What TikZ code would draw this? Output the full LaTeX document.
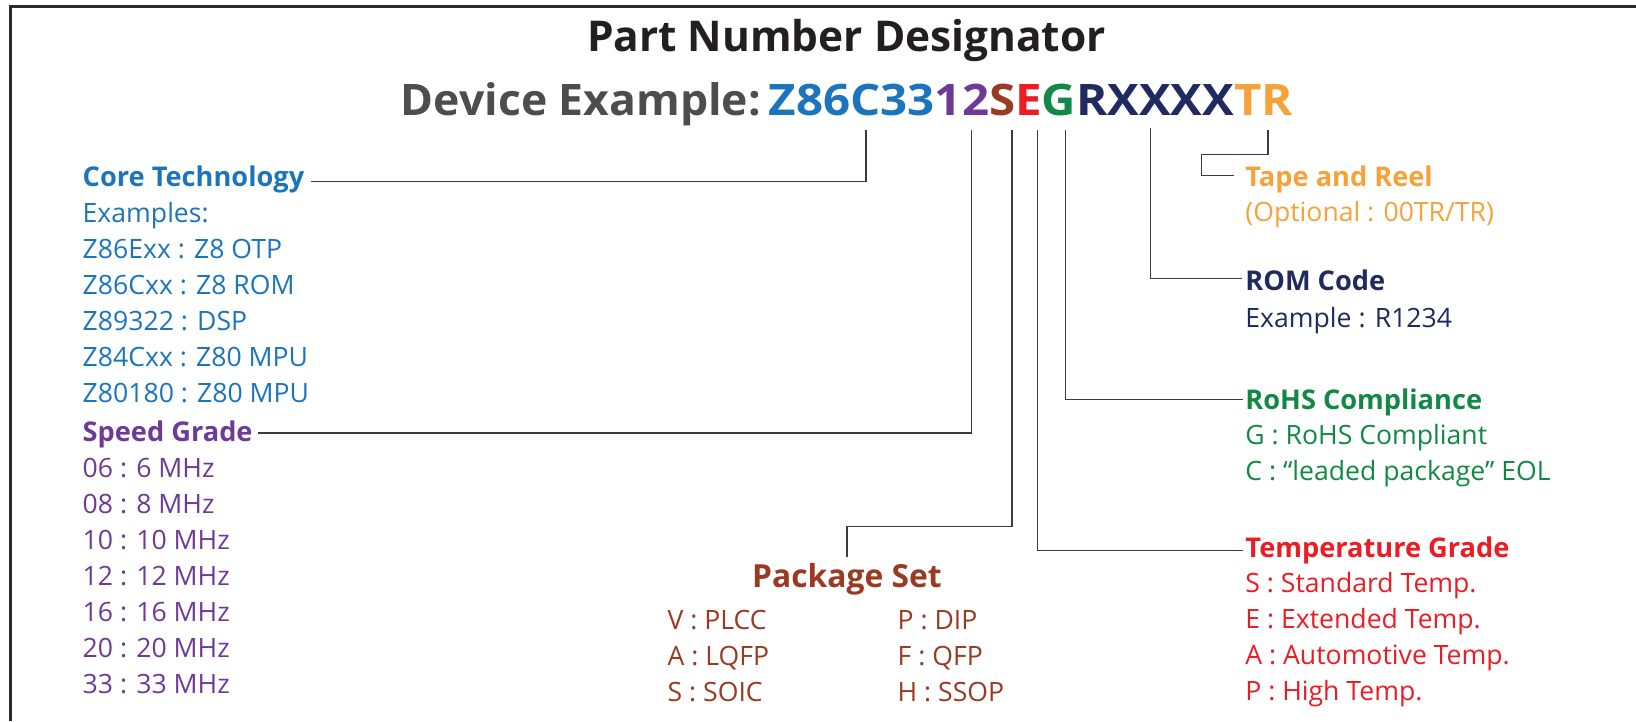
\documentclass[tikz,border=0pt]{standalone}
\usepackage{graphicx}
\usepackage{fontspec}
\setmainfont{Open Sans}
\definecolor{cblue}{HTML}{1C75BC}
\definecolor{cpurple}{HTML}{6E3A97}
\definecolor{cbrown}{HTML}{9A3A22}
\definecolor{cred}{HTML}{EC1C24}
\definecolor{cgreen}{HTML}{118844}
\definecolor{cnavy}{HTML}{1F2A60}
\definecolor{corange}{HTML}{F7A13B}
\definecolor{cgray}{HTML}{4D4D4D}
\definecolor{ctitle}{HTML}{231F20}
\definecolor{cline}{HTML}{3C3C3C}
\definecolor{cframe}{HTML}{2B2B2B}
\tikzset{
  lbl/.style={anchor=base west, inner sep=0pt, outer sep=0pt},
  head/.style={lbl, font=\bfseries\fontsize{27.2}{30}\selectfont},
  body/.style={lbl, font=\fontsize{26.6}{30}\selectfont},
  devfont/.style={inner sep=0pt, outer sep=0pt, font=\bfseries\fontsize{43.4}{46}\selectfont},
  conn/.style={draw=cline, line width=1.5pt},
}
\begin{document}
\begin{tikzpicture}[x=1pt,y=-1pt]
\useasboundingbox (0,0) rectangle (1636,721);
% frame
\draw[cframe, line width=2.6pt] (10.5,721) -- (10.5,6.3) -- (1636,6.3);
% title
\node[anchor=base, inner sep=0pt, text=ctitle, font=\bfseries\fontsize{42.4}{46}\selectfont] (title) at (846.5,51.7) {Part Number Designator};
\node[devfont, anchor=base east, text=cgray] (devlbl) at (761,115.7) {\scalebox{1.026}[1]{Device Example:}};
\node[devfont, anchor=base west] (code) at (768.8,115.7)
  {\scalebox{1.094}[1]{\textcolor{cblue}{Z86C33}\textcolor{cpurple}{12}\textcolor{cbrown}{S}\textcolor{cred}{E}\textcolor{cgreen}{G}\textcolor{cnavy}{RXXXX}\textcolor{corange}{TR}}};
% tick coordinates
\coordinate (tC) at (865.8,130);
\coordinate (t2) at (971.7,130);
\coordinate (tS) at (1011.8,130);
\coordinate (tE) at (1037.6,130);
\coordinate (tG) at (1065.7,130);
\coordinate (tX) at (1150.7,127.5);
\coordinate (tR) at (1268.2,130);
% Core technology
\node[head, text=cblue] (coreH) at (82.7,186.7) {Core Technology};
\foreach \t [count=\i from 0] in {Examples:, Z86Exx : Z8 OTP, Z86Cxx : Z8 ROM, Z89322 : DSP, Z84Cxx : Z80 MPU, Z80180 : Z80 MPU}
  \node[body, text=cblue] (core\i) at (82.7,222.7+36*\i) {\t};
% Speed grade
\node[head, text=cpurple] (spdH) at (82.7,441.7) {Speed Grade};
\foreach \t [count=\i from 0] in {06 : 6 MHz, 08 : 8 MHz, 10 : 10 MHz, 12 : 12 MHz, 16 : 16 MHz, 20 : 20 MHz, 33 : 33 MHz}
  \node[body, text=cpurple] (spd\i) at (82.7,477.7+36*\i) {\t};
% Package set
\node[anchor=base, inner sep=0pt, text=cbrown, font=\bfseries\fontsize{31.8}{36}\selectfont] (pkgH) at (847,587.7) {Package Set};
\node[body, text=cbrown] (pkV) at (667.7,629) {V : PLCC};
\node[body, text=cbrown] (pkA) at (667.7,665.7) {A : LQFP};
\node[body, text=cbrown] (pkS) at (667.7,701.7) {S : SOIC};
\node[body, text=cbrown] (pkP) at (897.7,629) {P : DIP};
\node[body, text=cbrown] (pkF) at (897.7,665.7) {F : QFP};
\node[body, text=cbrown] (pkH) at (897.7,701.7) {H : SSOP};
% Tape and reel
\node[head, text=corange] (trH) at (1245.4,186.4) {Tape and Reel};
\node[body, text=corange] (tr1) at (1245.4,221.5) {(Optional : 00TR/TR)};
% ROM code
\node[head, text=cnavy] (romH) at (1245.4,290.7) {ROM Code};
\node[body, text=cnavy] (rom1) at (1245.4,327) {Example : R1234};
% RoHS
\node[head, text=cgreen] (rohsH) at (1245.4,409.9) {RoHS Compliance};
\node[body, text=cgreen] (rohs1) at (1245.4,444.6) {G : RoHS Compliant};
\node[body, text=cgreen] (rohs2) at (1245.4,480) {C : “leaded package” EOL};
% Temperature
\node[head, text=cred] (tmpH) at (1245.4,557.2) {Temperature Grade};
\foreach \t [count=\i from 0] in {S : Standard Temp., E : Extended Temp., A : Automotive Temp., P : High Temp.}
  \node[body, text=cred] (tmp\i) at (1245.4,592.6+36*\i) {\t};
% connectors
\draw[conn] (tC) |- ([xshift=6.6pt,yshift=5.4pt]coreH.base east);
\draw[conn] (t2) |- ([xshift=5pt,yshift=8.7pt]spdH.base east);
\draw[conn] (tS) -- ++(0,396.7) -| ([yshift=30.4pt]pkgH.base);
\draw[conn] (tE) |- ([xshift=-2.4pt,yshift=6.5pt]tmpH.base west);
\draw[conn] (tG) |- ([xshift=-2.4pt,yshift=10.6pt]rohsH.base west);
\draw[conn] (tX) |- ([xshift=-3.7pt,yshift=12pt]romH.base west);
\draw[conn] (tR) -- ++(0,24.3) -- ++(-66.5,0) |- ([xshift=-11.1pt,yshift=10.7pt]trH.base west);
\end{tikzpicture}
\end{document}
